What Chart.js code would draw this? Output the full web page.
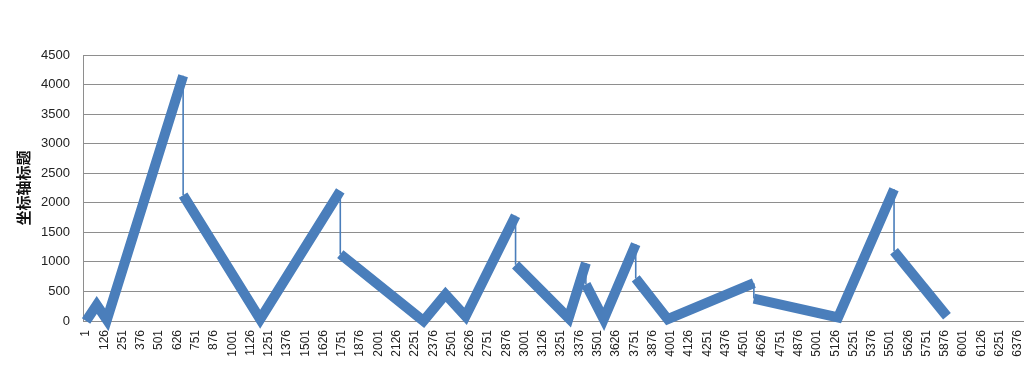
<!DOCTYPE html>
<html>
<head>
<meta charset="utf-8">
<script src="https://cdn.jsdelivr.net/npm/chart.js@4"></script>
<style>
html,body{margin:0;padding:0;background:#fff;}
#wrap{width:1024px;height:370px;position:relative;}
</style>
</head>
<body>
<div id="wrap"><canvas id="c" width="1024" height="370"></canvas></div>
<script>
// Data
const pointX = [1, 74, 143, 665, 665, 1192, 1740, 1740, 2309, 2460, 2597, 2939, 2939, 3302, 3420, 3420, 3542, 3761, 3761, 3980, 4569, 4569, 5145, 5528, 5528, 5890];
const pointY = [0, 270, 20, 4150, 2130, 30, 2200, 1130, 0, 450, 80, 1780, 950, 50, 980, 620, 30, 1300, 720, 30, 640, 380, 60, 2230, 1180, 80];
const xTickLabels = [1,126,251,376,501,626,751,876,1001,1126,1251,1376,1501,1626,1751,1876,2001,2126,2251,2376,2501,2626,2751,2876,3001,3126,3251,3376,3501,3626,3751,3876,4001,4126,4251,4376,4501,4626,4751,4876,5001,5126,5251,5376,5501,5626,5751,5876,6001,6126,6251,6376];
const yTickValues = [0,500,1000,1500,2000,2500,3000,3500,4000,4500];
const yAxisTitle = '坐标轴标题';

const points = pointX.map((x, i) => ({x: x, y: pointY[i]}));
const lineColor = '#4a7ebb';
const gridColor = '#8e8e8e';

new Chart(document.getElementById('c'), {
  type: 'line',
  data: {
    datasets: [{
      data: points,
      borderColor: lineColor,
      borderWidth: 10,
      borderCapStyle: 'butt',
      borderJoinStyle: 'miter',
      pointRadius: 0,
      tension: 0,
      fill: false,
      clip: false,
      segment: {
        borderWidth: ctx => (ctx.p0.parsed.x === ctx.p1.parsed.x ? 1.6 : 10)
      }
    }]
  },
  options: {
    responsive: false,
    animation: false,
    devicePixelRatio: 1,
    layout: {padding: {top: 55, left: 0, right: 0, bottom: 0}},
    plugins: {legend: {display: false}, tooltip: {enabled: false}},
    scales: {
      x: {
        type: 'linear',
        min: -20,
        max: 6417,
        afterBuildTicks: s => { s.ticks = xTickLabels.map(v => ({value: v})); },
        afterFit: s => { s.height = 49; s.paddingLeft = 0; s.paddingRight = 0; },
        grid: {display: false, drawTicks: false},
        border: {display: true, color: gridColor, width: 1},
        ticks: {
          autoSkip: false,
          minRotation: 90,
          maxRotation: 90,
          padding: 9,
          color: '#222',
          font: {family: 'Liberation Sans', size: 12},
          callback: v => String(v)
        }
      },
      y: {
        min: 0,
        max: 4500,
        afterBuildTicks: s => { s.ticks = yTickValues.map(v => ({value: v})); },
        afterFit: s => { s.width = 83; s.paddingTop = 0; s.paddingBottom = 0; },
        grid: {color: gridColor, lineWidth: 1, drawTicks: false},
        border: {display: true, color: gridColor, width: 1},
        ticks: {
          padding: 13,
          color: '#222',
          font: {family: 'Liberation Sans', size: 13},
          callback: v => String(v)
        },
        title: {
          display: true,
          text: yAxisTitle,
          color: '#111',
          font: {family: 'Noto Sans CJK SC', size: 15, weight: 'bold'},
          padding: {top: 14, bottom: 0}
        }
      }
    }
  }
});
</script>
</body>
</html>
